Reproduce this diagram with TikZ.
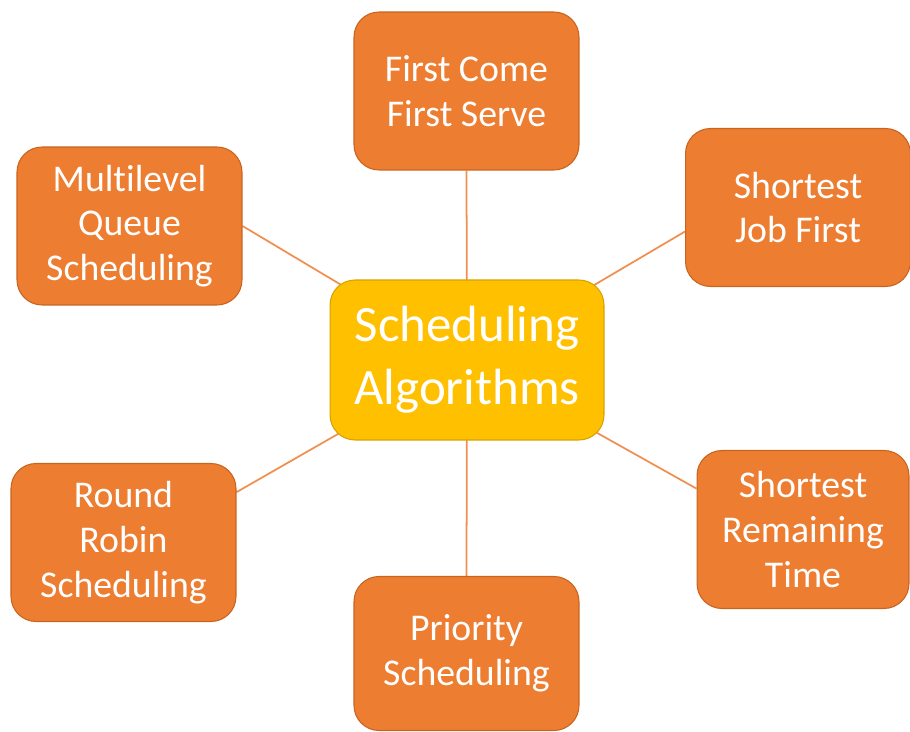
\documentclass[tikz,border=0pt]{standalone}
\usepackage{fontspec}
\setmainfont{Carlito}[Ligatures=NoCommon]
\usetikzlibrary{backgrounds}
\usepackage{xcolor}
\definecolor{algoorange}{HTML}{ED7D31}
\definecolor{algoedge}{HTML}{C8641E}
\definecolor{hubgold}{HTML}{FFC000}
\definecolor{hubedge}{HTML}{D6A200}

\begin{document}
\begin{tikzpicture}[x=0.02cm, y=-0.02cm,
  algo/.style={rectangle, rounded corners=0.5cm, fill=algoorange, draw=algoedge, line width=0.6pt,
    text=white, align=center, minimum width=4.5cm, minimum height=3.16cm,
    font=\fontsize{21.5}{25.5}\selectfont},
  hub/.style={rectangle, rounded corners=0.5cm, fill=hubgold, draw=hubedge, line width=0.6pt,
    text=white, align=center, minimum width=5.48cm, minimum height=3.2cm,
    font=\fontsize{29}{36}\selectfont},
  link/.style={draw=algoorange!85!white, line width=1pt}]
  \useasboundingbox (0,0) rectangle (910,732);

  \node[hub] (sched) at (467,360) {Scheduling\\Algorithms};

  \node[algo] (fcfs) at (466.5,91) {First Come\\First Serve};
  \node[algo] (sjf) at (798,207.5) {Shortest\\Job First};
  \node[algo] (mlq) at (129.5,226) {Multilevel\\Queue\\Scheduling};
  \node[algo] (rr) at (123.5,542.5) {Round\\Robin\\Scheduling};
  \node[algo, minimum width=4.24cm] (srt) at (803,529.5) {Shortest\\Remaining\\Time};
  \node[algo, minimum height=3.08cm] (prio) at (466.5,653.5) {Priority\\Scheduling};

  % spokes run under the boxes
  \begin{scope}[on background layer]
    \draw[link] (fcfs.south) -- (sched.center);
    \draw[link] (sjf.192) -- (sched.center);
    \draw[link] (mlq.east) -- (sched.center);
    \draw[link] (rr.24) -- (sched.center);
    \draw[link] (srt.159) -- (sched.center);
    \draw[link] (prio.north) -- (sched.center);
  \end{scope}
\end{tikzpicture}
\end{document}
